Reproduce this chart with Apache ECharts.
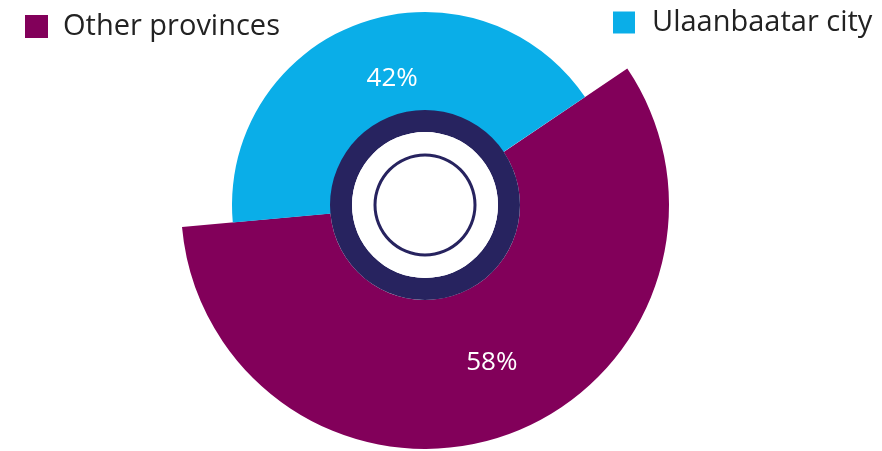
<!DOCTYPE html>
<html>
<head>
<meta charset="utf-8">
<script src="https://cdn.jsdelivr.net/npm/echarts@6/dist/echarts.min.js"></script>
<style>html,body{margin:0;padding:0;background:#fff}#c{width:882px;height:451px}</style>
</head>
<body>
<div id="c"></div>
<script>
var categories = ['Other provinces', 'Ulaanbaatar city'];
var values = [58, 42];
var colors = ['#82005A', '#0AAEE8'];
var navy = '#27235F';
var FONT = 'Open Sans';

var chart = echarts.init(document.getElementById('c'));
var center = [425, 205];
function labelFmt(p) { return p.value + '%'; }
var option = {
  backgroundColor: '#ffffff',
  animation: false,
  legend: [
    { data: [categories[0]], left: 20, top: 7, itemWidth: 23, itemHeight: 23, icon: 'rect',
      textStyle: { fontFamily: FONT, fontSize: 29, color: '#222', padding: [0, 0, 0, 10] } },
    { data: [categories[1]], left: 608, top: 3, itemWidth: 22, itemHeight: 22, icon: 'rect',
      textStyle: { fontFamily: FONT, fontSize: 29, color: '#222', padding: [0, 0, 0, 12] } }
  ],
  series: [
    {
      type: 'pie', center: center, radius: [95, 244], startAngle: 34, clockwise: true,
      silent: true, z: 2,
      label: { position: 'inside', formatter: labelFmt, color: '#fff', fontFamily: FONT, fontSize: 26, offset: [9, -5] },
      labelLine: { show: false },
      data: [
        { name: categories[0], value: values[0], itemStyle: { color: colors[0] } },
        { name: 'gapA', value: values[1], itemStyle: { color: 'rgba(0,0,0,0)' }, label: { show: false } }
      ]
    },
    {
      type: 'pie', center: center, radius: [74, 193], startAngle: 34, clockwise: true,
      silent: true, z: 2,
      label: { position: 'inside', formatter: labelFmt, color: '#fff', fontFamily: FONT, fontSize: 26, offset: [13, 2] },
      labelLine: { show: false },
      data: [
        { name: 'gapB', value: values[0], itemStyle: { color: 'rgba(0,0,0,0)' }, label: { show: false } },
        { name: categories[1], value: values[1], itemStyle: { color: colors[1] } }
      ]
    },
    {
      type: 'pie', center: center, radius: [73, 95], silent: true, z: 3,
      label: { show: false }, labelLine: { show: false },
      data: [{ name: 'ring', value: 1, itemStyle: { color: navy } }]
    },
    {
      type: 'pie', center: center, radius: [0, 73], silent: true, z: 3,
      label: { show: false }, labelLine: { show: false },
      data: [{ name: 'hole', value: 1, itemStyle: { color: '#ffffff' } }]
    },
    {
      type: 'pie', center: center, radius: [48.5, 51.5], silent: true, z: 4,
      label: { show: false }, labelLine: { show: false },
      data: [{ name: 'thin', value: 1, itemStyle: { color: navy } }]
    }
  ]
};
chart.setOption(option);
</script>
</body>
</html>
